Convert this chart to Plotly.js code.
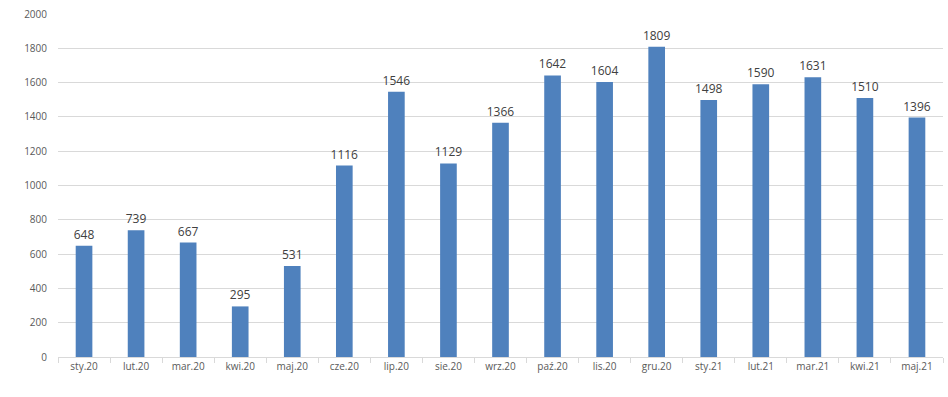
<!DOCTYPE html>
<html>
<head>
<meta charset="utf-8">
<script src="https://cdn.plot.ly/plotly-3.0.1.min.js"></script>
<style>html,body{margin:0;padding:0;background:#fff;}#chart{width:948px;height:397px;}</style>
</head>
<body>
<div id="chart"></div>
<script>
const categories = ["sty.20","lut.20","mar.20","kwi.20","maj.20","cze.20","lip.20","sie.20","wrz.20","paź.20","lis.20","gru.20","sty.21","lut.21","mar.21","kwi.21","maj.21"];
const values = [648,739,667,295,531,1116,1546,1129,1366,1642,1604,1809,1498,1590,1631,1510,1396];
const yTicks = [0,200,400,600,800,1000,1200,1400,1600,1800,2000];

const trace = {
  type: 'bar',
  x: categories,
  y: values,
  text: values.map(String),
  textposition: 'outside',
  constraintext: 'none',
  cliponaxis: false,
  textfont: {family: 'Open Sans, sans-serif', size: 12, color: '#404040'},
  marker: {color: '#4F81BD'},
  hoverinfo: 'x+y'
};

const layout = {
  width: 948, height: 397,
  margin: {l: 58, r: 5, t: 14, b: 40},
  paper_bgcolor: '#fff', plot_bgcolor: '#fff',
  bargap: 0.68,
  showlegend: false,
  font: {family: 'Open Sans, sans-serif', size: 10, color: '#595959'},
  xaxis: {
    type: 'category',
    tickson: 'boundaries',
    ticks: 'outside', ticklen: 5, tickcolor: '#d9d9d9', tickwidth: 1,
    showline: true, linecolor: '#d9d9d9', linewidth: 1,
    showgrid: false,
    tickfont: {family: 'Open Sans, sans-serif', size: 10, color: '#595959'}
  },
  yaxis: {
    range: [0, 2000],
    tickvals: yTicks,
    ticktext: yTicks.map(String),
    showgrid: true, gridcolor: '#d9d9d9', gridwidth: 1,
    zeroline: false, showline: false,
    ticks: '', ticklabelstandoff: 10,
    tickfont: {family: 'Open Sans, sans-serif', size: 10, color: '#595959'}
  }
};

Plotly.newPlot('chart', [trace], layout, {displayModeBar: false, staticPlot: true});
</script>
</body>
</html>
